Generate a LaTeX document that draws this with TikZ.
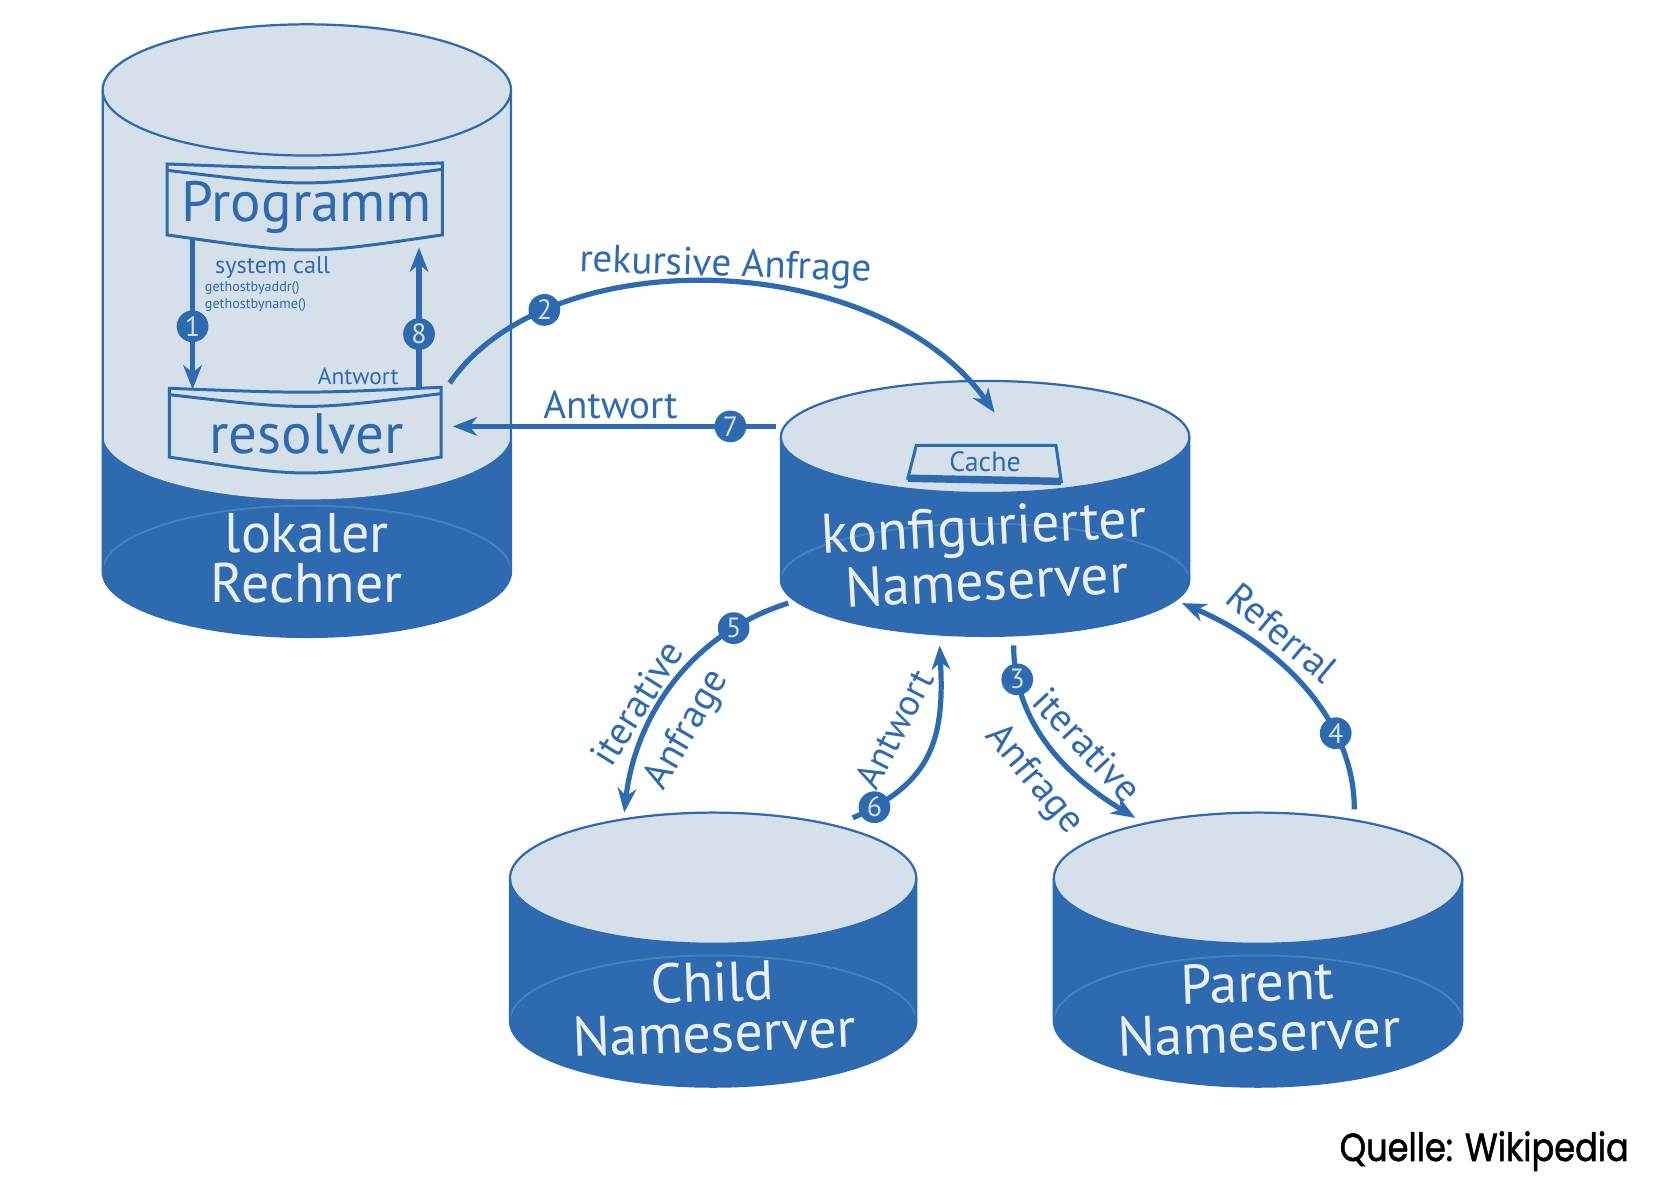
\documentclass[tikz,border=0pt]{standalone}
\usepackage{fontspec}
\setmainfont{PT Sans}
\newfontfamily\quellefont{Poppins}[FakeBold=1.6]
\usetikzlibrary{arrows.meta,positioning,calc}
\definecolor{nsblue}{RGB}{46,106,176}
\definecolor{nslight}{RGB}{213,224,234}
\definecolor{nsfaint}{RGB}{72,128,190}

\tikzset{
  flow/.style={nsblue,line width=1.4pt,-{Stealth[length=6.5pt,width=5pt,inset=2pt]}},
  numcirc/.style={circle,fill=nsblue,inner sep=0pt,minimum size=0.3cm,text=nslight,font=\fontsize{7.5}{7.5}\selectfont},
  lbl/.style={text=nsblue,font=\fontsize{10.5}{11}\selectfont,inner sep=0pt},
  srvtext/.style={text=nslight!50!white,font=\fontsize{15}{13.5}\selectfont,align=center,inner sep=0pt},
  boxtext/.style={text=nsblue,font=\fontsize{15.3}{15}\selectfont,inner sep=0pt},
  banner/.style={nsblue,line width=0.8pt,fill=nslight},
}

\begin{document}
\begin{tikzpicture}[x=0.01cm,y=0.01cm]
    \useasboundingbox (0,0) rectangle (1567,-1125);

    % Draw cylinders: centre x / top y / light y / base y / x radius / y radius
    \foreach \cx/\ty/\ly/\by/\rx/\ry in {290/-85/-410/-540/193/62, 931/-413/-413/-548/193/53,
                                        674/-830/-830/-965/192/62, 1189/-830/-830/-965/193/62} {
        \fill[nsblue] (\cx-\rx,\ty) rectangle (\cx+\rx,\by);
        \fill[nsblue] (\cx,\by) ellipse[x radius=\rx,y radius=\ry];
        \draw[nsfaint,line width=0.5pt] (\cx-\rx,\by) arc[start angle=180,end angle=0,x radius=\rx,y radius=\ry];
        \fill[nslight] (\cx-\rx,\ty) rectangle (\cx+\rx,\ly);
        \fill[nslight] (\cx,\ly) ellipse[x radius=\rx,y radius=\ry];
        \fill[nslight] (\cx,\ty) ellipse[x radius=\rx,y radius=\ry];
        \draw[nsblue,line width=0.6pt] (\cx,\ty) ellipse[x radius=\rx,y radius=\ry];
        \draw[nsblue,line width=0.6pt] (\cx-\rx,\ty) -- (\cx-\rx,\by)
            arc[start angle=180,end angle=360,x radius=\rx,y radius=\ry] -- (\cx+\rx,\ty);
    }

    % Draw program and resolver boxes
    \draw[banner] (158,-155) .. controls (290,-160) .. (418,-154)
        -- (418,-222) .. controls (290,-241) .. (158,-222) -- cycle;
    \draw[nsblue,line width=0.8pt] (158,-161) .. controls (290,-177) .. (418,-160);
    \node[boxtext] (prog) at (290,-196) {Programm};
    \draw[banner] (160,-367) .. controls (290,-372) .. (417,-366)
        -- (417,-432) .. controls (290,-452) .. (160,-432) -- cycle;
    \draw[nsblue,line width=0.8pt] (160,-373) .. controls (290,-388) .. (417,-372);
    \node[boxtext] (res) at (290,-410) {resolver};

    % System call and answer inside the local machine
    \coordinate (call-s) at (182,-226);
    \coordinate (call-e) at (182,-368);
    \draw[flow] (call-s) -- (call-e) node[numcirc,pos=0.58] (n1) {1};
    \coordinate (back-s) at (396,-368);
    \coordinate (back-e) at (396,-234);
    \draw[flow] (back-s) -- (back-e) node[numcirc,pos=0.39] (n8) {8};
    \node[text=nsblue,font=\fontsize{6.5}{7}\selectfont,anchor=west] (syscall) at (191,-253) {system call};
    \node[text=nsblue,font=\fontsize{3.8}{4.6}\selectfont,anchor=north west,align=left,inner sep=0pt]
        (gethost) at (193,-265) {gethostbyaddr()\\gethostbyname()};
    \node[text=nsblue,font=\fontsize{6.3}{7}\selectfont,anchor=east] (ant-res) at (389,-356) {Antwort};

    % Recursive query and answer
    \coordinate (rek-s) at (425,-362);
    \coordinate (rek-e) at (940,-390);
    \draw[flow] (rek-s) .. controls (520,-225) and (830,-235) .. (rek-e) node[numcirc,pos=0.22] (n2) {2};
    \node[lbl,rotate=-2] (rek) at (686,-252) {rekursive Anfrage};
    \coordinate (ant-s) at (733,-403);
    \coordinate (ant-e) at (428,-403);
    \draw[flow] (ant-s) -- (ant-e) node[numcirc,pos=0.14] (n7) {7};
    \node[lbl] (ant7) at (577,-383) {Antwort};

    % Cache
    \draw[nsblue,line width=0.8pt,fill=nslight] (866,-421) -- (998,-421) -- (1003,-455) -- (858,-452) -- cycle;
    \draw[nsblue,line width=2pt] (858,-452) -- (1003,-455);
    \node[text=nsblue,font=\fontsize{7.5}{8}\selectfont] (cache) at (931,-436) {Cache};

    % Server names
    \node[srvtext] (lok) at (290,-528) {lokaler\\Rechner};
    \node[srvtext,rotate=3] (konf) at (931,-523) {konfigurierter\\Nameserver};
    \node[srvtext,rotate=2] (child) at (674,-952) {Child\\Nameserver};
    \node[srvtext,rotate=2] (parent) at (1189,-952) {Parent\\Nameserver};

    % Iterative queries
    \coordinate (it5-s) at (745,-570);
    \coordinate (it5-e) at (590,-768);
    \draw[flow] (it5-s) .. controls (650,-600) and (600,-680) .. (it5-e) node[numcirc,pos=0.2] (n5) {5};
    \node[lbl,rotate=58] (it5a) at (602,-664) {iterative};
    \node[lbl,rotate=60] (it5b) at (650,-690) {Anfrage};
    \coordinate (ant6-s) at (806,-773);
    \coordinate (ant6-e) at (888,-610);
    \draw[flow] (ant6-s) .. controls (880,-740) and (893,-700) .. (ant6-e) node[numcirc,pos=0.1] (n6) {6};
    \node[lbl,rotate=63,font=\fontsize{10}{11}\selectfont] (ant6) at (845,-689) {Antwort};
    \coordinate (it3-s) at (958,-610);
    \coordinate (it3-e) at (1073,-773);
    \draw[flow] (it3-s) .. controls (958,-685) and (1010,-735) .. (it3-e) node[numcirc,pos=0.15] (n3) {3};
    \node[lbl,rotate=-47] (it3a) at (1028,-704) {iterative};
    \node[lbl,rotate=-50] (it3b) at (977,-737) {Anfrage};
    \coordinate (ref-s) at (1280,-765);
    \coordinate (ref-e) at (1117,-570);
    \draw[flow] (ref-s) .. controls (1280,-680) and (1210,-610) .. (ref-e) node[numcirc,pos=0.3] (n4) {4};
    \node[lbl,rotate=-40] (referral) at (1212,-598) {Referral};

    % Source
    \node[font=\quellefont\fontsize{10.5}{12}\selectfont,anchor=east,inner sep=0pt,xscale=0.86]
        (quelle) at (1540,-1088) {Quelle: Wikipedia};
\end{tikzpicture}
\end{document}
